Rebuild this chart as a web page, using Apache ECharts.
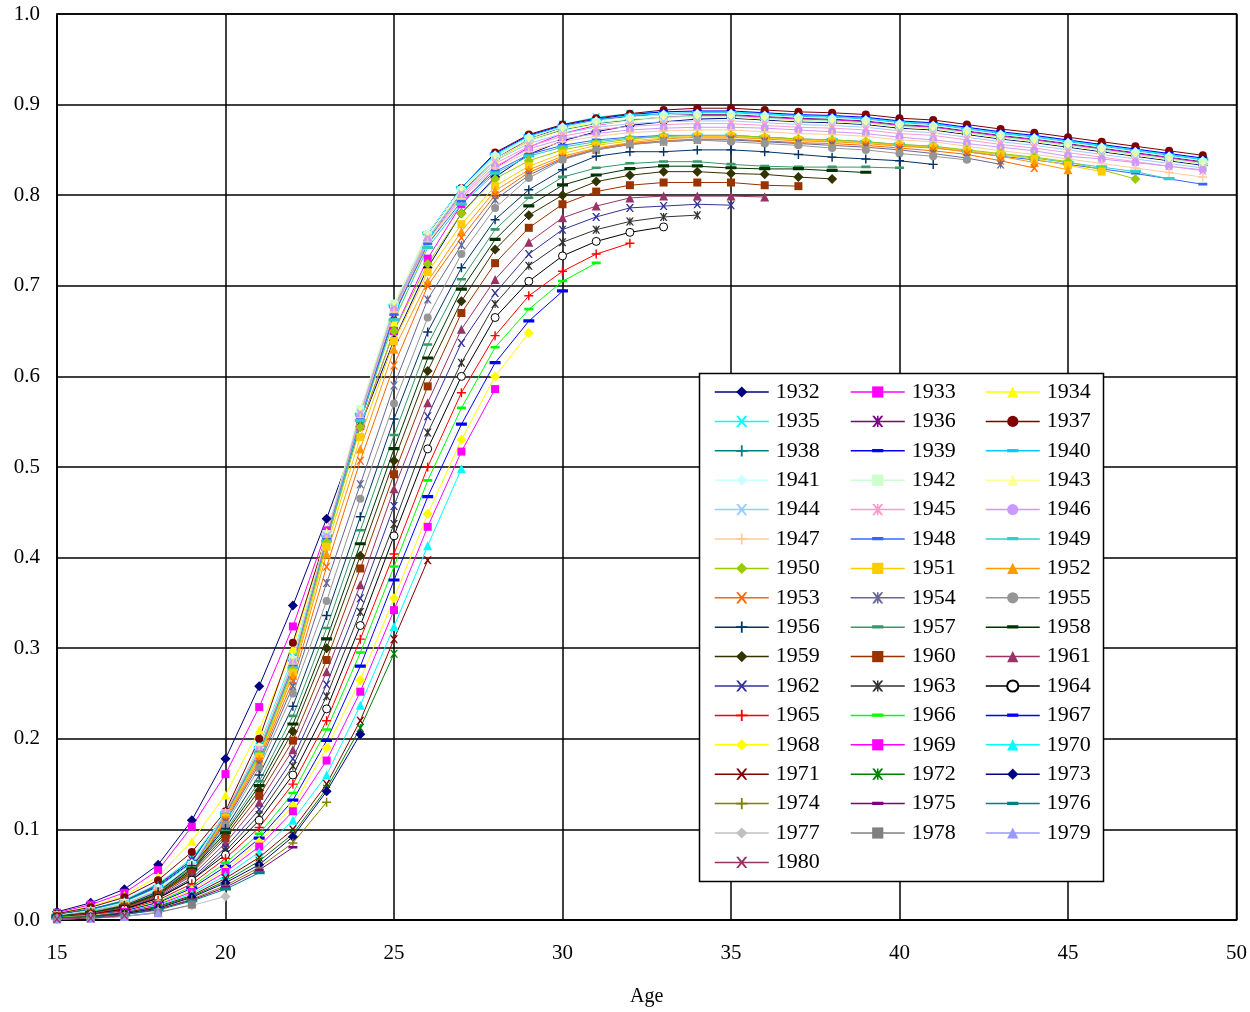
<!DOCTYPE html>
<html><head><meta charset="utf-8">
<script src="https://cdn.jsdelivr.net/npm/echarts@6/dist/echarts.min.js"></script>
<style>html,body{margin:0;padding:0;background:#fff}#c{width:1250px;height:1012px}</style>
</head><body><div id="c"></div>
<script>
const ages = [15,16,17,18,19,20,21,22,23,24,25,26,27,28,29,30,31,32,33,34,35,36,37,38,39,40,41,42,43,44,45,46,47,48,49];
const xTicks = [15,20,25,30,35,40,45,50];
const yTicks = [0,0.1,0.2,0.3,0.4,0.5,0.6,0.7,0.8,0.9,1.0];

const c1932 = [.009,.019,.034,.061,.110,.178,.258,.347,.443,.545,.640,.720,.780,.820,.845,.860,.870,.877,.881,.884,.885,.883,.881,.880,.878,.874,.872,.867,.862,.858,.853,.848,.843,.838,.833];
const c1933 = [.008,.017,.030,.055,.103,.161,.235,.324,.430,.545,.650,.730,.790,.830,.853,.868,.877,.883,.886,.888,.888,.886,.884,.883,.881,.877,.875,.870,.865,.861,.856,.851,.846,.841,.836];
const c1934 = [.007,.015,.027,.048,.087,.138,.210,.300,.428,.550,.660,.745,.800,.838,.860,.873,.882,.887,.889,.890,.890,.888,.886,.885,.883,.879,.877,.872,.867,.863,.858,.853,.848,.843,.838];
const c1935 = [.006,.012,.022,.040,.068,.117,.192,.290,.425,.553,.672,.752,.805,.843,.865,.878,.886,.890,.892,.892,.892,.890,.888,.887,.885,.881,.879,.874,.869,.865,.860,.855,.850,.845,.840];
const c1936 = [.006,.012,.021,.039,.066,.115,.190,.285,.420,.550,.668,.750,.803,.840,.862,.875,.883,.887,.889,.889,.889,.887,.885,.884,.882,.878,.876,.871,.866,.862,.857,.852,.847,.842,.837];
const c1937 = [.007,.014,.025,.044,.075,.120,.200,.306,.425,.556,.675,.757,.808,.847,.867,.878,.885,.890,.894,.896,.896,.894,.892,.891,.889,.885,.883,.878,.873,.869,.864,.859,.854,.849,.844];
const c1938 = [.006,.012,.021,.038,.066,.116,.188,.286,.418,.550,.668,.750,.802,.840,.860,.872,.879,.883,.886,.887,.887,.885,.883,.882,.880,.876,.874,.869,.864,.860,.855,.850,.845,.840,.835];
const c1939 = [.005,.011,.020,.037,.064,.117,.189,.287,.422,.556,.676,.757,.808,.846,.866,.877,.884,.889,.892,.893,.893,.891,.889,.888,.886,.882,.880,.875,.870,.866,.861,.856,.851,.846,.841];
const c1940 = [.005,.011,.020,.036,.063,.118,.190,.288,.424,.558,.678,.758,.808,.845,.865,.876,.883,.888,.890,.891,.891,.889,.887,.886,.884,.880,.878,.873,.868,.864,.859,.854,.849,.844,.839];
const c1941 = [.005,.010,.019,.035,.062,.118,.190,.288,.426,.562,.680,.758,.807,.844,.864,.875,.882,.886,.889,.890,.890,.888,.886,.885,.883,.879,.877,.872,.867,.863,.858,.853,.848,.843,.838];
const c1942 = [.005,.010,.019,.034,.061,.118,.190,.287,.426,.564,.680,.756,.805,.842,.862,.873,.880,.884,.886,.887,.887,.885,.883,.882,.880,.876,.874,.869,.864,.860,.855,.850,.845,.840,.835];
const c1943 = [.005,.010,.018,.034,.060,.118,.189,.286,.425,.562,.678,.755,.804,.840,.860,.871,.878,.882,.885,.886,.886,.884,.882,.881,.879,.875,.873,.868,.863,.859,.854,.849,.844,.839,.834];
const c1944 = [.005,.010,.018,.033,.059,.118,.188,.285,.424,.560,.676,.753,.802,.838,.857,.868,.875,.879,.881,.882,.882,.880,.878,.877,.875,.871,.869,.864,.859,.855,.850,.845,.840,.835,.830];
const c1945 = [.004,.009,.017,.032,.058,.118,.188,.284,.423,.558,.674,.752,.800,.835,.854,.865,.872,.876,.878,.879,.879,.877,.875,.874,.872,.868,.866,.861,.856,.852,.847,.842,.837,.832,.827];
const c1946 = [.004,.009,.017,.032,.057,.118,.187,.283,.422,.556,.673,.750,.798,.832,.851,.862,.868,.872,.874,.875,.875,.874,.872,.870,.868,.864,.861,.857,.853,.849,.843,.840,.836,.832,.828];
const c1947 = [.004,.009,.017,.031,.056,.117,.186,.282,.420,.554,.671,.748,.796,.830,.848,.859,.865,.869,.871,.872,.872,.870,.868,.867,.865,.861,.859,.854,.849,.845,.840,.835,.830,.825,.820];
const c1948 = [.004,.009,.016,.031,.056,.116,.185,.280,.420,.552,.668,.746,.793,.826,.845,.855,.861,.864,.866,.866,.866,.864,.862,.861,.859,.855,.853,.848,.843,.839,.834,.829,.824,.818,.812];
const c1949 = [.004,.009,.016,.030,.055,.115,.184,.278,.418,.551,.662,.742,.790,.824,.843,.853,.859,.863,.865,.866,.866,.864,.862,.861,.859,.856,.854,.849,.845,.841,.836,.831,.826,.818];
const c1950 = [.004,.009,.016,.030,.054,.114,.182,.276,.417,.544,.650,.724,.780,.818,.838,.850,.857,.862,.865,.866,.866,.864,.862,.861,.859,.856,.854,.850,.846,.842,.837,.828,.818];
const c1951 = [.004,.008,.016,.030,.054,.113,.180,.273,.412,.533,.639,.715,.768,.810,.832,.846,.855,.860,.863,.865,.865,.863,.861,.860,.858,.855,.853,.849,.845,.840,.833,.826];
const c1952 = [.004,.008,.015,.029,.053,.112,.178,.270,.404,.520,.630,.705,.760,.805,.828,.843,.852,.858,.862,.864,.864,.862,.860,.859,.857,.854,.852,.848,.843,.836,.828];
const c1953 = [.004,.008,.015,.029,.052,.110,.175,.264,.390,.507,.612,.700,.753,.800,.825,.841,.851,.857,.860,.862,.862,.860,.858,.857,.855,.852,.849,.845,.838,.830];
const c1954 = [.004,.008,.015,.028,.051,.108,.172,.258,.372,.481,.590,.685,.745,.795,.822,.840,.850,.856,.859,.861,.861,.859,.857,.855,.853,.850,.846,.841,.834];
const c1955 = [.004,.008,.015,.028,.050,.105,.168,.250,.352,.465,.570,.665,.735,.786,.819,.839,.850,.856,.859,.861,.859,.857,.855,.852,.850,.846,.843,.839];
const c1956 = [.004,.008,.016,.031,.060,.101,.160,.236,.336,.445,.553,.649,.720,.773,.806,.828,.843,.848,.848,.850,.850,.848,.845,.842,.840,.838,.834];
const c1957 = [.004,.008,.015,.030,.058,.098,.153,.225,.322,.430,.535,.635,.707,.762,.797,.820,.830,.835,.837,.837,.834,.832,.831,.831,.831,.830];
const c1958 = [.004,.008,.015,.029,.056,.096,.148,.216,.310,.415,.520,.620,.696,.751,.788,.811,.822,.829,.832,.832,.830,.829,.829,.827,.825];
const c1959 = [.004,.007,.014,.028,.054,.093,.143,.208,.300,.402,.507,.606,.683,.740,.778,.800,.815,.822,.826,.826,.824,.823,.820,.818];
const c1960 = [.004,.007,.014,.027,.052,.090,.137,.198,.287,.388,.492,.589,.670,.725,.764,.790,.804,.811,.814,.814,.814,.811,.810];
const c1961 = [.003,.007,.013,.026,.049,.085,.130,.188,.274,.370,.476,.571,.652,.707,.748,.775,.788,.797,.799,.799,.799,.798];
const c1962 = [.003,.006,.012,.025,.046,.080,.122,.178,.260,.355,.457,.556,.637,.692,.735,.762,.776,.786,.788,.790,.789];
const c1963 = [.003,.006,.012,.024,.044,.076,.116,.170,.247,.340,.437,.538,.615,.680,.722,.748,.762,.771,.776,.778];
const c1964 = [.003,.006,.012,.024,.044,.072,.110,.160,.233,.325,.424,.520,.600,.665,.705,.733,.749,.759,.765];
const c1965 = [.003,.006,.011,.022,.040,.068,.102,.150,.220,.310,.404,.500,.582,.645,.689,.716,.735,.747];
const c1966 = [.003,.005,.010,.020,.037,.063,.095,.140,.210,.295,.390,.485,.565,.632,.674,.705,.725];
const c1967 = [.002,.005,.010,.019,.035,.059,.090,.132,.198,.280,.375,.467,.547,.615,.661,.694];
const c1968 = [.002,.005,.009,.018,.033,.056,.086,.126,.190,.265,.355,.448,.530,.600,.648];
const c1969 = [.002,.004,.009,.017,.031,.053,.081,.120,.176,.252,.342,.434,.517,.586];
const c1970 = [.002,.004,.008,.016,.029,.049,.075,.110,.160,.237,.324,.413,.498];
const c1971 = [.002,.004,.008,.015,.027,.046,.069,.100,.150,.220,.310,.397];
const c1972 = [.002,.004,.007,.014,.026,.043,.065,.095,.145,.212,.294];
const c1973 = [.002,.003,.007,.013,.025,.041,.061,.092,.142,.205];
const c1974 = [.002,.003,.006,.012,.023,.038,.058,.085,.130];
const c1975 = [.002,.003,.006,.012,.022,.036,.055,.080];
const c1976 = [.002,.003,.006,.011,.021,.034,.052];
const c1977 = [.001,.002,.004,.009,.016,.026];
const c1978 = [.001,.002,.004,.008,.017];
const c1979 = [.001,.002,.004,.008];
const c1980 = [.001,.002,.005];

const cohorts = ['1932','1933','1934','1935','1936','1937','1938','1939','1940','1941','1942','1943','1944','1945','1946','1947','1948','1949','1950','1951','1952','1953','1954','1955','1956','1957','1958','1959','1960','1961','1962','1963','1964','1965','1966','1967','1968','1969','1970','1971','1972','1973','1974','1975','1976','1977','1978','1979','1980'];
const cohortValues = [c1932,c1933,c1934,c1935,c1936,c1937,c1938,c1939,c1940,c1941,c1942,c1943,c1944,c1945,c1946,c1947,c1948,c1949,c1950,c1951,c1952,c1953,c1954,c1955,c1956,c1957,c1958,c1959,c1960,c1961,c1962,c1963,c1964,c1965,c1966,c1967,c1968,c1969,c1970,c1971,c1972,c1973,c1974,c1975,c1976,c1977,c1978,c1979,c1980];

// styles
const colors = ['#000080','#FF00FF','#FFFF00','#00FFFF','#800080','#800000','#008080','#0000FF','#00CCFF','#CCFFFF','#CCFFCC','#FFFF99','#99CCFF','#FF99CC','#CC99FF','#FFCC99','#3366FF','#33CCCC','#99CC00','#FFCC00','#FF9900','#FF6600','#666699','#969696','#003366','#339966','#003300','#333300','#993300','#993366','#333399','#333333','#000000','#FF0000','#00FF00','#0000FF','#FFFF00','#FF00FF','#00FFFF','#800000','#008000','#000080','#808000','#800080','#008080','#C0C0C0','#808080','#9999FF','#993366'];
const markers = ['diamond','square','triangle','x','star','circle','plus','dash','dash2',
 'diamond','square','triangle','x','star','circle','plus','dash','dash2',
 'diamond','square','triangle','x','star','circle','plus','dash','dash2',
 'diamond','square','triangle','x','star',
 'ocircle','plus','dash','dash2','diamond','square','triangle','x','star','diamond','plus','dash','dash2','diamond','square','triangle','x'];

const XPATH = 'M0,0L2,0L5,3.6L8,0L10,0L6.2,5L10,10L8,10L5,6.4L2,10L0,10L3.8,5Z';
// dash inside a square box (tiny corner specks keep the bounding box square)
const DASHSYM = 'path://M0,0L0.01,0L0,0.01Z M10,10L9.99,10L10,9.99Z M0,3.3L10,3.3L10,6.2L0,6.2Z';
const SYM = {
  diamond: {s:'diamond', z:10},
  square: {s:'rect', z:8},
  triangle: {s:'triangle', z:9},
  circle: {s:'circle', z:8},
  ocircle: {s:'circle', z:8},
  x: {s:'path://'+XPATH, z:8},
  star: {s:'path://'+XPATH+'M4.3,0L5.7,0L5.7,10L4.3,10Z', z:8},
  plus: {s:'path://M4.2,0L5.8,0L5.8,4.2L10,4.2L10,5.8L5.8,5.8L5.8,10L4.2,10L4.2,5.8L0,5.8L0,4.2L4.2,4.2Z', z:9},
  dash: {s:DASHSYM, z:9},
  dash2: {s:DASHSYM, z:11}
};

const FONT = 'Liberation Serif';
const series = cohorts.map((name, i) => {
  const vals = cohortValues[i];
  const m = SYM[markers[i]];
  const col = colors[i];
  const open = markers[i] === 'ocircle';
  return {
    name, type: 'line',
    data: vals.map((v, k) => [ages[k], v]),
    symbol: m.s, symbolSize: m.z,
    showSymbol: true, animation: false, z: 2,
    lineStyle: {color: col, width: 1},
    itemStyle: open ? {color: '#fff', borderColor: '#000', borderWidth: 1} : {color: col, borderWidth: 0},
    emphasis: {disabled: true}
  };
});

const chart = echarts.init(document.getElementById('c'), null, {renderer: 'canvas'});
const legendCols = [0,1,2].map(col => ({
  orient: 'vertical', left: [714, 850, 985][col], top: 381, padding: 0,
  itemWidth: 54, itemHeight: 14, itemGap: 7.4, selectedMode: false,
  data: cohorts.filter((_, i) => i % 3 === col),
  textStyle: {fontFamily: FONT, fontSize: 22, color: '#000', lineHeight: 20, padding: [0,0,0,2]},
  lineStyle: {width: 1.5},
  z: 5
}));

chart.setOption({
  backgroundColor: '#fff',
  animation: false,
  grid: {left: 57, right: 12, top: 14, bottom: 90, show: true, borderColor: '#000', borderWidth: 1.5},
  xAxis: {
    type: 'value', min: xTicks[0], max: xTicks[xTicks.length-1], interval: 5,
    name: 'Age', nameLocation: 'middle', nameGap: 67,
    nameTextStyle: {fontFamily: FONT, fontSize: 20, color: '#000'},
    axisLine: {show: true, lineStyle: {color: '#000', width: 1.5}},
    axisTick: {show: false},
    axisLabel: {fontFamily: FONT, fontSize: 21, color: '#000', margin: 23},
    splitLine: {show: true, lineStyle: {color: '#000', width: 1.5}}
  },
  yAxis: {
    type: 'value', min: yTicks[0], max: yTicks[yTicks.length-1], interval: 0.1,
    axisLine: {show: true, lineStyle: {color: '#000', width: 1.5}},
    axisTick: {show: false},
    axisLabel: {fontFamily: FONT, fontSize: 21, color: '#000', margin: 17, formatter: v => v.toFixed(1)},
    splitLine: {show: true, lineStyle: {color: '#000', width: 1.5}}
  },
  legend: legendCols,
  graphic: [{type: 'rect', z: 3, shape: {x: 699.5, y: 373.5, width: 404, height: 508},
             style: {fill: '#fff', stroke: '#000', lineWidth: 1.5}}],
  series
});
</script></body></html>
